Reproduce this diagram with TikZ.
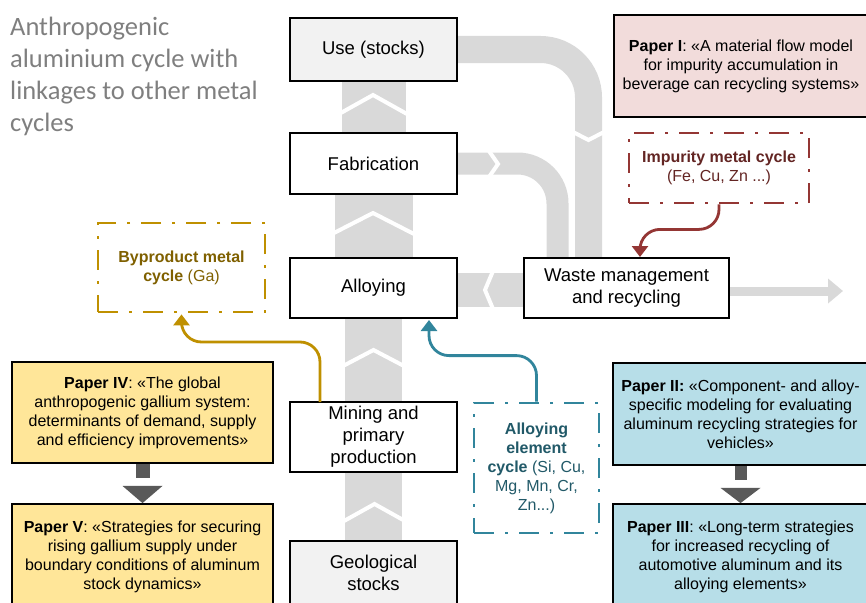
\documentclass[tikz,border=0pt]{standalone}
\usepackage{fontspec}
\setmainfont{Liberation Sans}
\newfontfamily\titlefont{Carlito}
\usetikzlibrary{arrows.meta,backgrounds}

\definecolor{flow}{HTML}{D9D9D9}
\definecolor{stockfill}{HTML}{F2F2F2}
\definecolor{pinkfill}{HTML}{F2DCDB}
\definecolor{bluefill}{HTML}{B7DEE8}
\definecolor{goldfill}{HTML}{FFE699}
\definecolor{goldline}{HTML}{BF9000}
\definecolor{goldtext}{HTML}{7F6000}
\definecolor{tealline}{HTML}{31859C}
\definecolor{tealtext}{HTML}{215968}
\definecolor{redline}{HTML}{943634}
\definecolor{redtext}{HTML}{632523}
\definecolor{darkarrow}{HTML}{595959}
\definecolor{titlegray}{HTML}{7F7F7F}

\tikzset{
  procbox/.style={draw=black, line width=1.8pt, fill=white, inner sep=0pt,
    align=center, font=\fontsize{18.5}{22}\selectfont},
  stockbox/.style={procbox, fill=stockfill},
  paperbox/.style={draw=black, line width=1.8pt, inner sep=0pt, align=center,
    font=\fontsize{16}{19}\selectfont},
  cyclebox/.style={line width=2.8pt, inner sep=0pt, align=center,
    dash pattern=on 20pt off 11pt on 3pt off 11pt,
    font=\fontsize{16}{19}\selectfont},
  link/.style={line width=2.8pt, rounded corners=20pt,
    -{Triangle[width=16pt,length=11pt]}},
  band/.style={draw=flow},
  notch/.style={draw=white, line width=4pt},
}

\begin{document}
\begin{tikzpicture}[x=1pt, y=-1pt]
\useasboundingbox (0,0) rectangle (866,602);
\clip (0,0) rectangle (866,602);

% title
\node[anchor=north west, inner sep=0pt, align=left, text=titlegray,
      font=\titlefont\fontsize{26.5}{32}\selectfont] (title) at (10,17)
  {Anthropogenic\\aluminium cycle with\\linkages to other metal\\cycles};

% aluminium process chain
\node[stockbox, minimum width=167pt, minimum height=63pt] (use) at (373.5,49.5) {Use (stocks)};
\node[procbox, minimum width=167pt, minimum height=61pt] (fab) at (373.5,163.5) {Fabrication};
\node[procbox, minimum width=167pt, minimum height=60pt] (alloy) at (373.5,288) {Alloying};
\node[procbox, minimum width=167pt, minimum height=70pt] (mining) at (373.5,437) {Mining and\\primary\\production};
\node[stockbox, minimum width=167pt, minimum height=64pt] (geo) at (373.5,573) {Geological\\stocks};
\node[procbox, minimum width=205pt, minimum height=60pt] (waste) at (626.5,288) {Waste management\\and recycling};

% aluminium flows, behind the boxes
\begin{scope}[on background layer]
\draw[band, line width=57pt] (geo.north) -- (mining.south);
\draw[band, line width=57pt] (mining.north) -- (alloy.south);
\draw[band, line width=78pt] (alloy.north) -- (fab.south);
\draw[band, line width=64pt] (fab.north) -- (use.south);
\draw[band, line width=27pt, rounded corners=48pt] (use.east) -| ([xshift=-38pt]waste.north);
\draw[band, line width=22pt, rounded corners=40pt] (fab.east) -| ([xshift=-69pt]waste.north);
\draw[band, line width=34pt] ([yshift=-2pt]waste.west) -- ([yshift=-2pt]alloy.east);
\coordinate (sink) at (843,291);
\draw[band, line width=9pt, -{Triangle[width=24pt,length=15pt]}] ([yshift=-3pt]waste.east) -- (sink);
% flow direction notches
\draw[notch] (339,114) -- (373,95) -- (407,114);
\draw[notch] (332,234) -- (373,213) -- (414,234);
\draw[notch] (343,366) -- (373.5,350) -- (404,366);
\draw[notch] (344,521) -- (374.5,504) -- (405,521);
\draw[notch] (573,132) -- (588.5,140) -- (604,132);
\draw[notch] (489,151) -- (498,164) -- (489,177);
\draw[notch] (493,271) -- (485,290) -- (493,309);
\end{scope}

% linked metal cycles
\node[cyclebox, draw=goldline, text=goldtext, minimum width=167pt, minimum height=89pt]
  (byprod) at (181.5,267.5) {\textbf{Byproduct metal}\\\textbf{cycle} (Ga)};
\node[cyclebox, draw=redline, text=redtext, minimum width=180pt, minimum height=70pt]
  (impur) at (719,168) {\textbf{Impurity metal cycle}\\(Fe, Cu, Zn ...)};
\node[cyclebox, draw=tealline, text=tealtext, minimum width=125pt, minimum height=130pt]
  (alelem) at (536.5,468) {\textbf{Alloying}\\\textbf{element}\\\textbf{cycle} (Si, Cu,\\Mg, Mn, Cr,\\Zn...)};

\coordinate (goldout) at (320,402);
\coordinate (tealin) at (429,318);
\coordinate (redin) at (640,258);
\draw[link, goldline, shorten >=1pt] (goldout) -- ++(0,-60) -| (byprod.south);
\draw[link, tealline, shorten >=2pt] (alelem.north) -- ++(0,-46) -| (tealin);
\draw[link, redline, shorten >=1pt] (impur.south) -- ++(0,25) -| (redin);

% papers
\node[paperbox, fill=pinkfill, minimum width=254pt, minimum height=102pt] (p1) at (741,66)
  {\textbf{Paper I}: «A material flow model\\for impurity accumulation in\\beverage can recycling systems»};
\node[paperbox, fill=bluefill, minimum width=255pt, minimum height=102pt] (p2) at (740.5,414)
  {\textbf{Paper II:} «Component- and alloy-\\specific modeling for evaluating\\aluminum recycling strategies for\\vehicles»};
\node[paperbox, fill=bluefill, minimum width=255pt, minimum height=106pt] (p3) at (740.5,557)
  {\textbf{Paper III}: «Long-term strategies\\for increased recycling of\\automotive aluminum and its\\alloying elements»};
\node[paperbox, fill=goldfill, minimum width=261pt, minimum height=101pt] (p4) at (142.5,412.5)
  {\textbf{Paper IV}: «The global\\anthropogenic gallium system:\\determinants of demand, supply\\and efficiency improvements»};
\node[paperbox, fill=goldfill, minimum width=261pt, minimum height=106pt] (p5) at (142.5,557)
  {\textbf{Paper V}: «Strategies for securing\\rising gallium supply under\\boundary conditions of aluminum\\stock dynamics»};

% paper sequence arrows
\fill[darkarrow] ([xshift=-7pt]p4.south) rectangle ([xshift=7pt,yshift=-14pt]p4.south);
\fill[darkarrow] ([xshift=-20pt,yshift=-22pt]p4.south) -- ([xshift=20pt,yshift=-22pt]p4.south) -- (p5.north) -- cycle;
\fill[darkarrow] ([xshift=-6pt]p2.south) rectangle ([xshift=6pt,yshift=-14pt]p2.south);
\fill[darkarrow] ([xshift=-20pt,yshift=-22pt]p2.south) -- ([xshift=20pt,yshift=-22pt]p2.south) -- (p3.north) -- cycle;
\end{tikzpicture}
\end{document}
